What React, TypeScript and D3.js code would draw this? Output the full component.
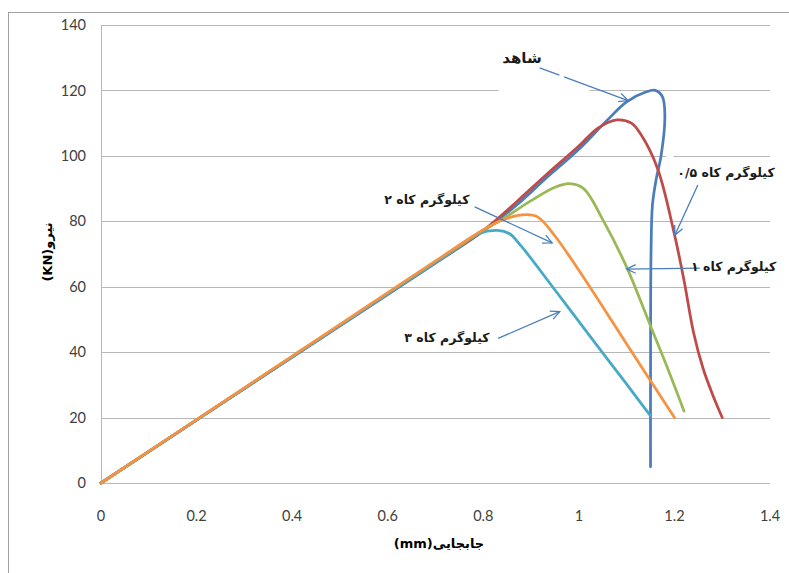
import React from "react";
import * as d3 from "d3";

// ---- data (displacement mm, force kN) ----
const controlX = [0, 0.2, 0.4, 0.6, 0.72, 0.8, 0.87, 0.93, 1.0, 1.06, 1.1, 1.14, 1.16, 1.175, 1.18, 1.172, 1.162, 1.154, 1.151, 1.15, 1.15];
const controlY = [0, 19.2, 38.4, 57.6, 69.1, 77, 85, 93, 102, 111, 116.5, 119.5, 120, 118, 112, 100, 93, 85, 70, 30, 5];

const straw05X = [0, 0.2, 0.4, 0.6, 0.72, 0.8, 0.87, 0.93, 1.0, 1.04, 1.08, 1.11, 1.13, 1.165, 1.2, 1.22, 1.24, 1.26, 1.28, 1.3];
const straw05Y = [0, 19.3, 38.6, 57.9, 69.4, 77.2, 86, 94, 103, 108.5, 111, 110, 106.5, 96, 76, 62, 46, 35, 27, 20];

const straw1X = [0, 0.2, 0.4, 0.6, 0.72, 0.8, 0.84, 0.9, 0.95, 0.98, 1.01, 1.05, 1.1, 1.15, 1.19, 1.22];
const straw1Y = [0, 19.3, 38.6, 57.9, 69.4, 77.2, 80.6, 86.3, 90.4, 91.5, 90, 80.5, 66, 48, 33.5, 22];

const straw3X = [0, 0.2, 0.4, 0.6, 0.72, 0.79, 0.83, 0.855, 0.88, 0.95, 1.02, 1.1, 1.15];
const straw3Y = [0, 19.3, 38.6, 57.9, 69.4, 76.2, 77.2, 76.2, 72.3, 59, 45.5, 30.2, 20.5];

const straw2X = [0, 0.2, 0.4, 0.6, 0.72, 0.8, 0.84, 0.89, 0.915, 0.95, 1.0, 1.1, 1.2];
const straw2Y = [0, 19.4, 38.8, 58.2, 69.8, 77.4, 80.4, 82, 81.2, 75.5, 65, 42.5, 20];

const xTicks = [0, 0.2, 0.4, 0.6, 0.8, 1, 1.2, 1.4];
const yTicks = [0, 20, 40, 60, 80, 100, 120, 140];

const seriesNames = ["شاهد", "۰/۵", "۱", "۳", "۲"];
const seriesColors = ["#4A7EBB", "#BE4B48", "#98B954", "#46AAC5", "#F69240"];

// annotation labels
const labelTexts = ["شاهد", "کیلوگرم کاه ۰/۵", "کیلوگرم کاه ۱", "کیلوگرم کاه ۲", "کیلوگرم کاه ۳"];
const labelX = [0.881, 1.308, 1.324, 0.682, 0.724];
const labelY = [130.0, 95.0, 66.0, 86.5, 44.5];
const labelSize = [15, 12.5, 12.5, 12.5, 12.5];

// arrows: from -> to (data units)
const arrowFromX = [0.918, 1.249, 1.253, 0.782, 0.831];
const arrowFromY = [126.9, 91.1, 65.7, 84.4, 44.2];
const arrowToX = [1.103, 1.201, 1.100, 0.944, 0.960];
const arrowToY = [116.9, 75.8, 65.4, 73.4, 52.4];

// gaps in gridlines caused by text boxes: [yValue, xStart, xEnd]
const gapY = [120, 100];
const gapX0 = [0.832, 1.183];
const gapX1 = [1.022, 1.198];

const W = 789;
const H = 573;
const left = 101;
const right = 770;
const top = 25;
const bottom = 483;

export default function App() {
  const x = d3.scaleLinear().domain([0, 1.4]).range([left, right]);
  const y = d3.scaleLinear().domain([0, 140]).range([bottom, top]);

  const line = d3
    .line<[number, number]>()
    .x((d) => x(d[0]))
    .y((d) => y(d[1]))
    .curve(d3.curveCatmullRom.alpha(0.5));

  const series = [
    [controlX, controlY],
    [straw05X, straw05Y],
    [straw1X, straw1Y],
    [straw3X, straw3Y],
    [straw2X, straw2Y],
  ];

  const arrows = arrowFromX.map((fx, i) => {
    const x1 = x(fx), y1 = y(arrowFromY[i]);
    const x2 = x(arrowToX[i]), y2 = y(arrowToY[i]);
    const ang = Math.atan2(y2 - y1, x2 - x1);
    const L = 10, a = 0.45;
    const hx1 = x2 - L * Math.cos(ang - a), hy1 = y2 - L * Math.sin(ang - a);
    const hx2 = x2 - L * Math.cos(ang + a), hy2 = y2 - L * Math.sin(ang + a);
    const len = Math.hypot(x2 - x1, y2 - y1);
    return { x1, y1, x2, y2, hx1, hy1, hx2, hy2, len, i };
  });

  const tickFont = "Lato, 'Open Sans', sans-serif";
  const arFont = "'DejaVu Sans', sans-serif";

  return (
    <svg width={W} height={H} style={{ position: "absolute", left: 0, top: 0, background: "#fff" }}>
      <rect x={0} y={0} width={W} height={H} fill="#fff" />
      <rect x={8.5} y={12.5} width={W + 20} height={H + 20} fill="none" stroke="#A0A0A0" strokeWidth={1} />

      {/* gridlines */}
      {yTicks.map((t) => (
        <line key={t} x1={left} x2={right} y1={Math.round(y(t)) + 0.5} y2={Math.round(y(t)) + 0.5} stroke="#B8B8B8" strokeWidth={1} />
      ))}
      {gapY.map((g, i) => (
        <rect key={i} x={x(gapX0[i])} y={y(g) - 2} width={x(gapX1[i]) - x(gapX0[i])} height={4} fill="#fff" />
      ))}
      <line x1={left + 0.5} x2={left + 0.5} y1={top} y2={bottom} stroke="#B8B8B8" strokeWidth={1} />

      {/* tick labels */}
      {yTicks.map((t) => (
        <text key={t} x={86} y={y(t)} dy="0.35em" textAnchor="end" fontFamily={tickFont} fontSize={14.5} fill="#404040">
          {t}
        </text>
      ))}
      {xTicks.map((t) => (
        <text key={t} x={x(t)} y={516} dy="0.35em" textAnchor="middle" fontFamily={tickFont} fontSize={14.5} fill="#404040">
          {t}
        </text>
      ))}

      {/* axis titles */}
      <text x={439} y={543} dy="0.35em" textAnchor="middle" fontFamily={arFont} fontWeight="bold" fontSize={13} fill="#000">
        (mm)جابجایی
      </text>
      <text transform="translate(47,252) rotate(-90)" dy="0.35em" textAnchor="middle" fontFamily={arFont} fontWeight="bold" fontSize={13} fill="#000">
        (KN)نیرو
      </text>

      {/* series */}
      {series.map((s, i) => {
        const pts = s[0].map((v, j) => [v, s[1][j]] as [number, number]);
        return (
          <path key={seriesNames[i]} d={line(pts) || ""} fill="none" stroke={seriesColors[i]} strokeWidth={2.75} strokeLinejoin="round" strokeLinecap="round" />
        );
      })}

      {/* arrows */}
      {arrows.map((a) => (
        <g key={a.i} stroke="#4A7EBB" strokeWidth={1.3} fill="none">
          <line x1={a.x1} y1={a.y1} x2={a.x2} y2={a.y2} strokeDasharray={a.i === 0 ? `21 5 ${a.len}` : undefined} />
          <polyline points={`${a.hx1},${a.hy1} ${a.x2},${a.y2} ${a.hx2},${a.hy2}`} />
        </g>
      ))}

      {/* labels */}
      {labelTexts.map((t, i) => (
        <text key={i} x={x(labelX[i])} y={y(labelY[i])} dy="0.35em" textAnchor="middle" fontFamily={arFont} fontWeight="bold" fontSize={labelSize[i]} fill="#1a1a1a">
          {t}
        </text>
      ))}
    </svg>
  );
}
